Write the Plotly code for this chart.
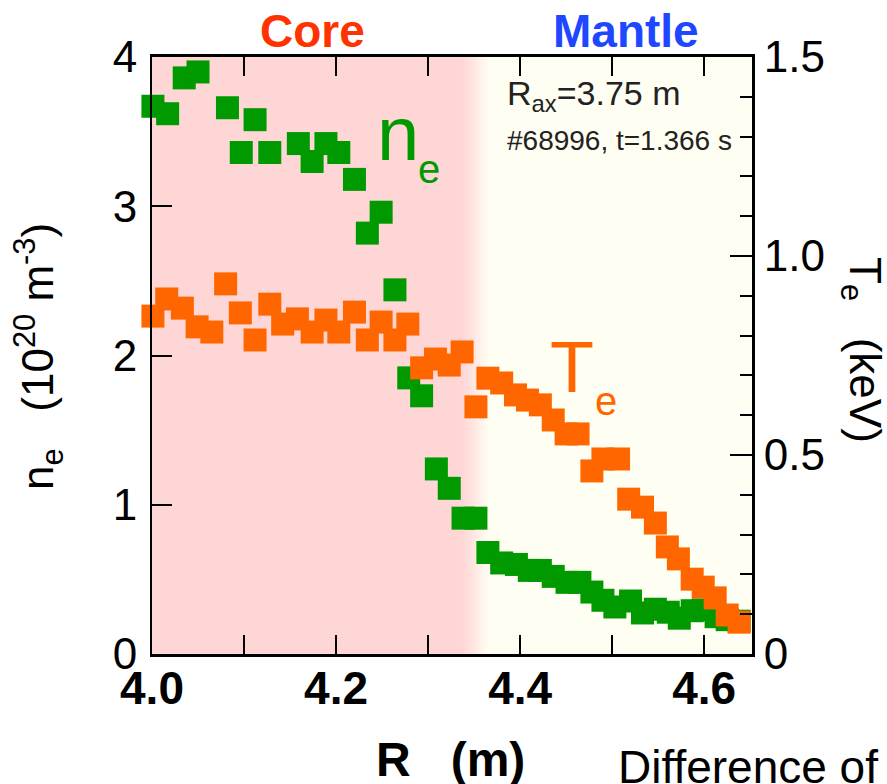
import plotly.graph_objects as go

# ---- data -------------------------------------------------------------
# electron density n_e (10^20 m^-3) vs major radius R (m)
ne_R = [4.001, 4.017, 4.035, 4.050, 4.082, 4.097, 4.112, 4.128, 4.159, 4.174,
        4.189, 4.203, 4.220, 4.234, 4.249, 4.264, 4.279, 4.293, 4.309, 4.323,
        4.338, 4.352, 4.365, 4.380, 4.396, 4.410, 4.422, 4.436, 4.451, 4.465,
        4.478, 4.490, 4.503, 4.520, 4.533, 4.547, 4.561, 4.573, 4.587, 4.599,
        4.613, 4.625, 4.638]
ne_val = [3.67, 3.62, 3.86, 3.90, 3.66, 3.36, 3.58, 3.36, 3.42, 3.30,
          3.42, 3.36, 3.18, 2.82, 2.96, 2.44, 1.85, 1.73, 1.24, 1.11,
          0.91, 0.91, 0.68, 0.61, 0.60, 0.56, 0.56, 0.52, 0.48, 0.48,
          0.415, 0.36, 0.315, 0.355, 0.275, 0.30, 0.28, 0.24, 0.29, 0.295,
          0.25, 0.23, 0.22]

# electron temperature T_e (keV) vs major radius R (m)
te_R = [4.001, 4.016, 4.033, 4.049, 4.065, 4.080, 4.096, 4.112, 4.128, 4.142,
        4.158, 4.174, 4.189, 4.203, 4.220, 4.234, 4.249, 4.264, 4.278, 4.293,
        4.308, 4.323, 4.337, 4.352, 4.365, 4.380, 4.395, 4.408, 4.422, 4.436,
        4.450, 4.463, 4.478, 4.490, 4.507, 4.518, 4.533, 4.547, 4.560, 4.572,
        4.587, 4.599, 4.612, 4.625, 4.638]
te_val = [0.849, 0.892, 0.869, 0.822, 0.809, 0.930, 0.857, 0.789, 0.879, 0.829,
          0.842, 0.809, 0.839, 0.809, 0.859, 0.789, 0.834, 0.789, 0.829, 0.719,
          0.741, 0.726, 0.759, 0.621, 0.693, 0.681, 0.651, 0.638, 0.626, 0.588,
          0.553, 0.553, 0.460, 0.490, 0.490, 0.389, 0.369, 0.329, 0.269, 0.239,
          0.188, 0.168, 0.141, 0.098, 0.080]

x_range = [4.0, 4.652]
ne_range = [0, 4]
te_range = [0, 1.5]
x_ticks = [4.0, 4.2, 4.4, 4.6]
te_tickvals = [0, 0.5, 1.0, 1.5]
te_ticktext = ["0", "0.5", "1.0", "1.5"]
core_edge = 4.338      # end of the solid "Core" shading
mantle_edge = 4.366    # start of the "Mantle" shading

# ---- layout geometry (pixels) ----------------------------------------
W, H = 887, 784
PL, PR, PT, PB = 152, 752, 57, 654
FONT = "Liberation Sans, Arial, sans-serif"
GREEN = "#009900"
ORANGE = "#FF6600"
PINK = (255, 214, 214)
CREAM = (255, 254, 242)


def fx(px):
    return (px - PL) / (PR - PL)


def fy(py):
    return (PB - py) / (PB - PT)


fig = go.Figure()

fig.add_trace(go.Scatter(
    x=ne_R, y=ne_val, mode="markers", yaxis="y",
    marker=dict(symbol="square", size=23, color=GREEN, line=dict(width=0)),
    showlegend=False, cliponaxis=False))
fig.add_trace(go.Scatter(
    x=te_R, y=te_val, mode="markers", yaxis="y2",
    marker=dict(symbol="square", size=23, color=ORANGE, line=dict(width=0)),
    showlegend=False, cliponaxis=False))

# background regions: core (pink) fading into mantle (cream)
shapes = [
    dict(type="rect", xref="x", yref="paper", x0=x_range[0], x1=core_edge,
         y0=0, y1=1, fillcolor="rgb(%d,%d,%d)" % PINK, line=dict(width=0),
         layer="below"),
    dict(type="rect", xref="x", yref="paper", x0=mantle_edge, x1=x_range[1],
         y0=0, y1=1, fillcolor="rgb(%d,%d,%d)" % CREAM, line=dict(width=0),
         layer="below"),
]
n_steps = 12
for i in range(n_steps):
    t = (i + 0.5) / n_steps
    c = tuple(round(PINK[k] + (CREAM[k] - PINK[k]) * t) for k in range(3))
    a = core_edge + (mantle_edge - core_edge) * i / n_steps
    b = core_edge + (mantle_edge - core_edge) * (i + 1) / n_steps
    shapes.append(dict(type="rect", xref="x", yref="paper", x0=a, x1=b + 0.0005,
                       y0=0, y1=1, fillcolor="rgb(%d,%d,%d)" % c,
                       line=dict(width=0), layer="below"))


def label(text, px, py, size, color="black", bold=False, xanchor="left",
          angle=0, yanchor="middle"):
    return dict(text=text, xref="paper", yref="paper", x=fx(px), y=fy(py),
                xanchor=xanchor, yanchor=yanchor, showarrow=False,
                textangle=angle,
                font=dict(family=FONT, size=size, color=color,
                          weight="bold" if bold else "normal"))


NB = "\u00a0"
annotations = [
    label("Core", 312, 31, 46, color="#FF3300", bold=True, xanchor="center"),
    label("Mantle", 626, 31, 46, color="#1F47FF", bold=True, xanchor="center"),
    label("n", 375, 160 - 0.35 * 76, 76, color=GREEN),
    label("e", 416, 183 - 0.35 * 40, 40, color=GREEN),
    label("T", 548, 392 - 0.35 * 72, 72, color=ORANGE),
    label("e", 593, 415 - 0.35 * 40, 40, color=ORANGE),
    label("R<sub>ax</sub>=3.75 m", 505, 107 - 0.35 * 34, 34, color="#222222"),
    label("#68996, t=1.366 s", 505, 150 - 0.35 * 28, 28, color="#222222"),
    label("n<sub>e</sub>" + NB * 3 + "(10<sup>20</sup>" + NB + "m<sup>-3</sup>)",
          38, 357, 44, xanchor="center", angle=-90),
    label("T<sub>e</sub>" + NB * 3 + "(keV)", 862, 350, 44, xanchor="center",
          angle=90),
    label("R" + NB * 3 + "(m)", 450, 776 - 0.35 * 48, 48, bold=True,
          xanchor="center"),
    label("Difference of", 616, 783 - 0.35 * 46, 46),
]

axis_common = dict(showgrid=False, zeroline=False, showline=True,
                   linecolor="black", tickcolor="black", ticks="inside")

fig.update_layout(
    width=W, height=H,
    margin=dict(l=PL, r=W - PR, t=PT, b=H - PB, pad=0),
    paper_bgcolor="white", plot_bgcolor="white",
    shapes=shapes, annotations=annotations,
    xaxis=dict(**axis_common, range=x_range, tickvals=x_ticks,
               tickformat=".1f", ticklen=19, tickwidth=2, linewidth=3,
               mirror="allticks", ticklabelstandoff=-8,
               tickfont=dict(family=FONT, size=46, color="black",
                             weight="bold"),
               minor=dict(dtick=0.1, tick0=4.0, ticks="inside", ticklen=11,
                          tickwidth=2, tickcolor="black")),
    yaxis=dict(**axis_common, range=ne_range, dtick=1, ticklen=20,
               tickwidth=2, linewidth=2, ticklabelstandoff=4,
               tickfont=dict(family=FONT, size=44, color="black")),
    yaxis2=dict(**axis_common, range=te_range, overlaying="y", side="right",
                tickvals=te_tickvals, ticktext=te_ticktext, ticklen=22,
                tickwidth=2, linewidth=3, ticklabelstandoff=0,
                tickfont=dict(family=FONT, size=44, color="black"),
                minor=dict(dtick=0.1, tick0=0, ticks="inside", ticklen=12,
                           tickwidth=2, tickcolor="black")),
)

fig.write_html("out.html")
